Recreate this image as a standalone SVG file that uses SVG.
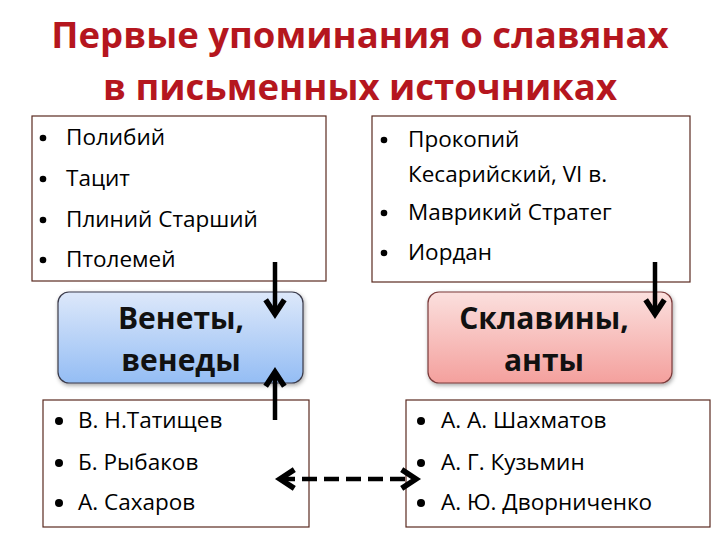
<svg xmlns="http://www.w3.org/2000/svg" width="720" height="540" viewBox="0 0 720 540">
<defs>
<linearGradient id="gBlue" x1="0" y1="0" x2="0" y2="1">
<stop offset="0" stop-color="#dde8fa"/>
<stop offset="1" stop-color="#94bdf4"/>
</linearGradient>
<linearGradient id="gRed" x1="0" y1="0" x2="0" y2="1">
<stop offset="0" stop-color="#fbe0de"/>
<stop offset="1" stop-color="#f4a09d"/>
</linearGradient>
<marker id="head" viewBox="0 0 20 20" refX="17" refY="10" markerWidth="22" markerHeight="22" markerUnits="userSpaceOnUse" orient="auto-start-reverse" overflow="visible">
<path d="M4,1.5 L17,10 L4,18.5" fill="none" stroke="#000" stroke-width="5" stroke-linejoin="miter"/>
</marker>
<filter id="sh" x="-10%" y="-10%" width="125%" height="130%">
<feGaussianBlur in="SourceAlpha" stdDeviation="2"/>
<feOffset dx="1" dy="2" result="b"/>
<feFlood flood-color="#000" flood-opacity="0.35"/>
<feComposite in2="b" operator="in"/>
<feMerge><feMergeNode/><feMergeNode in="SourceGraphic"/></feMerge>
</filter>
</defs>
<style>
.title{font-family:"Open Sans","Liberation Sans",sans-serif;font-weight:bold;font-size:36.5px;fill:#b5161e;text-anchor:middle}
.list{fill:#fff;stroke:#5a2a20;stroke-width:1.2}
.t{font-family:"Open Sans","Noto Sans","Liberation Sans",sans-serif;font-size:22.5px;fill:#000}
.big{font-family:"Open Sans","Liberation Sans",sans-serif;font-weight:bold;font-size:30px;fill:#111;text-anchor:middle}
.conn{stroke:#000;stroke-width:4.5;fill:none}
.dot{fill:#000}
</style>
<rect width="720" height="540" fill="#fff"/>
<g id="title">
<text class="title" x="360" y="48">Первые упоминания о славянах</text>
<text class="title" x="360" y="100">в письменных источниках</text>
</g>
<g id="ancient">
<rect class="list" x="32" y="116" width="294" height="165"/>
<circle class="dot" cx="43" cy="138" r="3.3"/><text class="t" x="66" y="145">Полибий</text>
<circle class="dot" cx="43" cy="179" r="3.3"/><text class="t" x="66" y="186">Тацит</text>
<circle class="dot" cx="43" cy="220" r="3.3"/><text class="t" x="66" y="227">Плиний Старший</text>
<circle class="dot" cx="43" cy="260" r="3.3"/><text class="t" x="66" y="267">Птолемей</text>
</g>
<g id="byzantine">
<rect class="list" x="372" y="116" width="318" height="166"/>
<circle class="dot" cx="384" cy="140" r="3.3"/><text class="t" x="408" y="147">Прокопий</text>
<text class="t" x="408" y="182">Кесарийский, VI в.</text>
<circle class="dot" cx="384" cy="213" r="3.3"/><text class="t" x="408" y="220">Маврикий Стратег</text>
<circle class="dot" cx="384" cy="253" r="3.3"/><text class="t" x="408" y="260">Иордан</text>
</g>
<g id="veneti">
<rect x="58" y="292" width="245" height="91" rx="11" fill="url(#gBlue)" stroke="#3a3a4a" stroke-width="1.2" filter="url(#sh)"/>
<text class="big" x="181" y="329">Венеты,</text>
<text class="big" x="181" y="371">венеды</text>
</g>
<g id="sklaviny">
<rect x="428" y="292" width="244" height="91" rx="11" fill="url(#gRed)" stroke="#7a3a3a" stroke-width="1.2" filter="url(#sh)"/>
<text class="big" x="544" y="329">Склавины,</text>
<text class="big" x="544" y="371">анты</text>
</g>
<g id="historians-left">
<rect class="list" x="43" y="400" width="266" height="127"/>
<circle class="dot" cx="59" cy="421" r="4"/><text class="t" x="78" y="428">В. Н.Татищев</text>
<circle class="dot" cx="59" cy="463" r="4"/><text class="t" x="78" y="470">Б. Рыбаков</text>
<circle class="dot" cx="59" cy="503" r="4"/><text class="t" x="78" y="510">А. Сахаров</text>
</g>
<g id="historians-right">
<rect class="list" x="406" y="400" width="304" height="127"/>
<circle class="dot" cx="421" cy="421" r="4"/><text class="t" x="441" y="428">А. А. Шахматов</text>
<circle class="dot" cx="421" cy="463" r="4"/><text class="t" x="441" y="470">А. Г. Кузьмин</text>
<circle class="dot" cx="421" cy="503" r="4"/><text class="t" x="441" y="510">А. Ю. Дворниченко</text>
</g>
<g id="connectors">
<line class="conn" x1="275" y1="262" x2="275" y2="314" marker-end="url(#head)"/>
<line class="conn" x1="275" y1="420" x2="275" y2="372" marker-end="url(#head)"/>
<line class="conn" x1="655" y1="262" x2="655" y2="314" marker-end="url(#head)"/>
<line class="conn" x1="280" y1="479" x2="416" y2="479" stroke-dasharray="15,7" stroke-width="5.5" marker-start="url(#head)" marker-end="url(#head)"/>
</g>
</svg>
